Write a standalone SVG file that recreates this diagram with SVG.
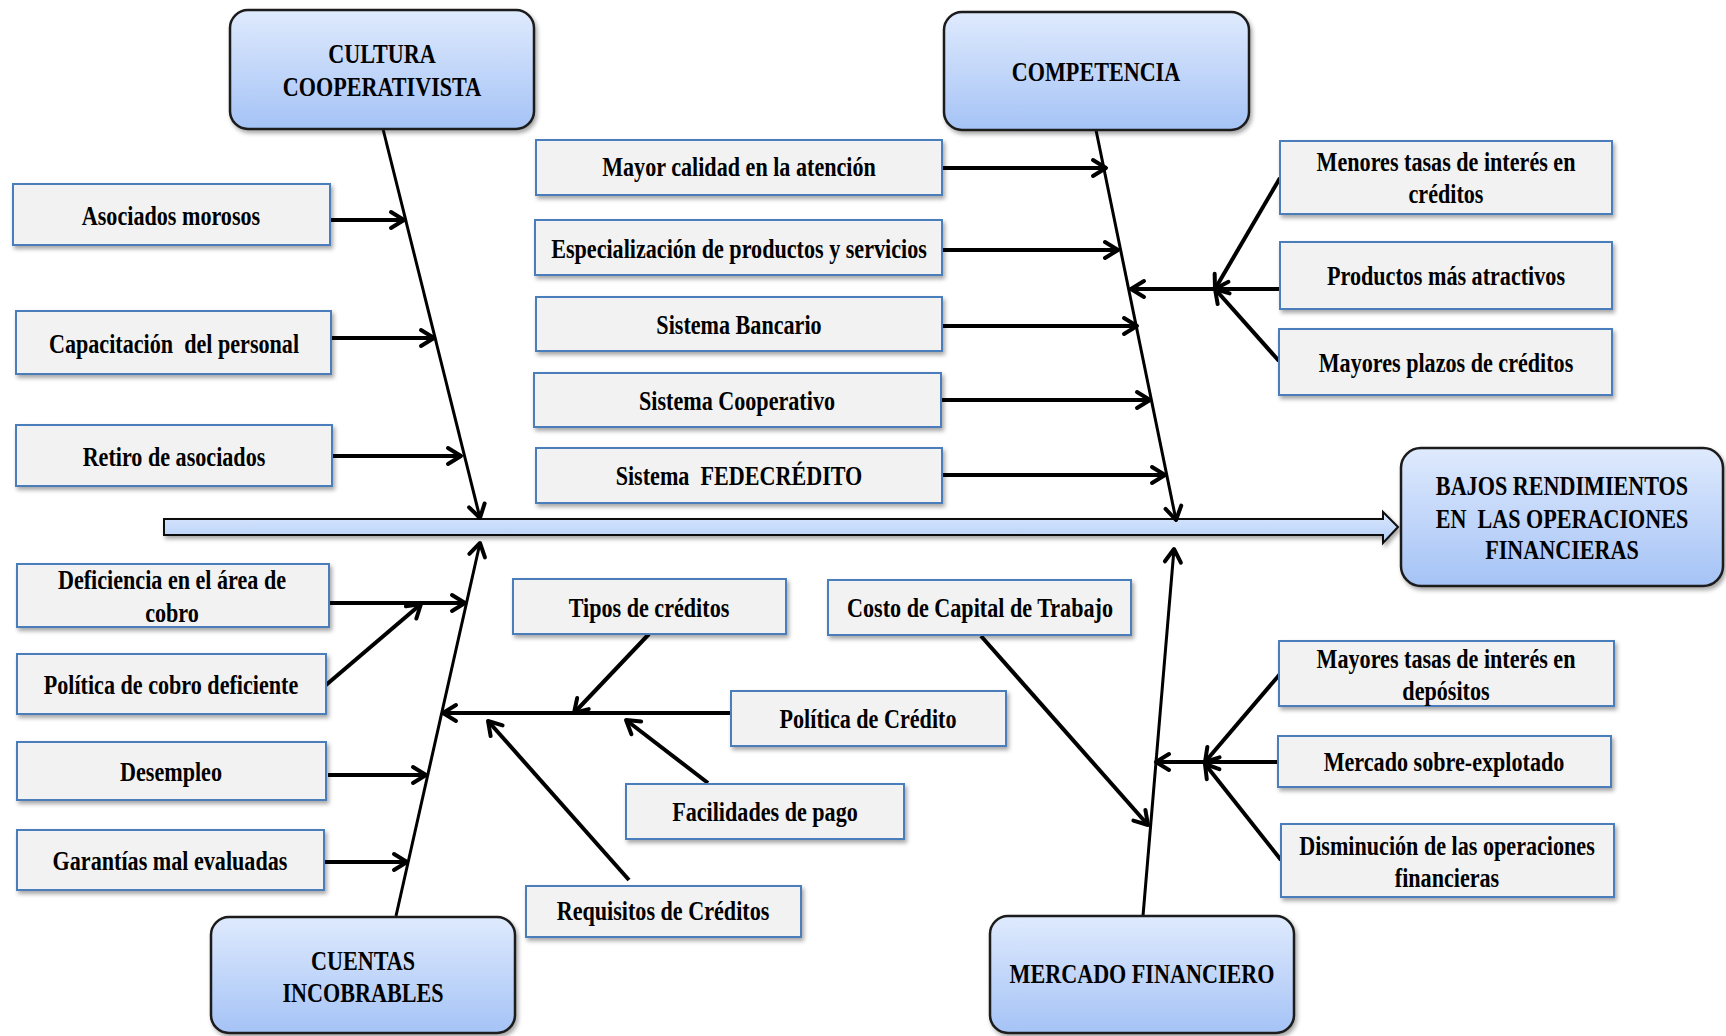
<svg xmlns="http://www.w3.org/2000/svg" width="1726" height="1036" viewBox="0 0 1726 1036">
<style>
.t { font-family: "Liberation Serif", "Times New Roman", serif; font-weight: bold; font-size: 27px; fill: #000; text-anchor: middle; transform-box: fill-box; transform-origin: center; transform: scaleX(0.82); }
.cause { fill: #f2f2f2; stroke: #4a7ebb; stroke-width: 2; filter: url(#sh); }
.cat { fill: url(#catg); stroke: #1b1b1b; stroke-width: 2.5; filter: url(#sh); }
.c { fill: none; stroke: #000; stroke-width: 4; marker-end: url(#ah); }
.sp { fill: none; stroke: #000; stroke-width: 3; marker-end: url(#ah); }
</style>
<defs>
<linearGradient id="catg" x1="0" y1="0" x2="0" y2="1">
<stop offset="0" stop-color="#dfeafd"/>
<stop offset="1" stop-color="#a5c3f6"/>
</linearGradient>
<linearGradient id="axg" x1="0" y1="0" x2="0" y2="1">
<stop offset="0" stop-color="#dbe7fd"/>
<stop offset="1" stop-color="#b3cff8"/>
</linearGradient>
<filter id="sh" x="-10%" y="-10%" width="125%" height="140%">
<feDropShadow dx="2" dy="3" stdDeviation="2" flood-color="#000" flood-opacity="0.35"/>
</filter>
<marker id="ah" markerUnits="userSpaceOnUse" markerWidth="22" markerHeight="22" viewBox="-2 -2 22 22" refX="14" refY="8.5" orient="auto" overflow="visible">
<path d="M1,0.5 L14,8.5 L1,16.5" fill="none" stroke="#000" stroke-width="4" stroke-linecap="round" stroke-linejoin="round"/>
</marker>
</defs>
<rect x="0" y="0" width="1726" height="1036" fill="#fff"/>

<g id="axis">
<path d="M164,519 L1383,519 L1383,512 L1398,527 L1383,543 L1383,535 L164,535 Z" fill="url(#axg)" stroke="#111" stroke-width="2" filter="url(#sh)"/>
</g>

<g id="connectors">
<line class="sp" x1="383" y1="129" x2="480" y2="518"/>
<line class="c" x1="330" y1="220" x2="404" y2="220"/>
<line class="c" x1="332" y1="338" x2="434" y2="338"/>
<line class="c" x1="333" y1="456" x2="461" y2="456"/>

<line class="sp" x1="1096" y1="130" x2="1176" y2="520"/>
<line class="c" x1="943" y1="168" x2="1106" y2="168"/>
<line class="c" x1="943" y1="250" x2="1118" y2="250"/>
<line class="c" x1="943" y1="326" x2="1137" y2="326"/>
<line class="c" x1="941" y1="400" x2="1150" y2="400"/>
<line class="c" x1="943" y1="475" x2="1165" y2="475"/>
<line class="c" x1="1280" y1="289" x2="1131" y2="289"/>
<line class="c" x1="1280" y1="178" x2="1215" y2="289"/>
<line class="c" x1="1279" y1="361" x2="1215" y2="289"/>

<line class="sp" x1="396" y1="916" x2="480" y2="543"/>
<line class="c" x1="330" y1="603" x2="465" y2="603"/>
<line class="c" x1="326" y1="685" x2="421" y2="604"/>
<line class="c" x1="328" y1="775" x2="426" y2="775"/>
<line class="c" x1="324" y1="862" x2="407" y2="862"/>
<line class="c" x1="731" y1="713" x2="443" y2="713"/>
<line class="c" x1="649" y1="634" x2="574" y2="713"/>
<line class="c" x1="708" y1="783" x2="626" y2="720"/>
<line class="c" x1="629" y1="880" x2="488" y2="721"/>

<line class="sp" x1="1143" y1="916" x2="1174" y2="549"/>
<line class="c" x1="981" y1="636" x2="1148" y2="825"/>
<line class="c" x1="1278" y1="762" x2="1156" y2="762"/>
<line class="c" x1="1280" y1="674" x2="1205" y2="762"/>
<line class="c" x1="1281" y1="860" x2="1205" y2="764"/>
</g>

<g id="cultura">
<rect class="cat" x="230" y="10" width="304" height="119" rx="18"/>
<text class="t" x="382" y="63">CULTURA</text>
<text class="t" x="382" y="96">COOPERATIVISTA</text>
</g>
<g id="competencia">
<rect class="cat" x="944" y="12" width="305" height="118" rx="18"/>
<text class="t" x="1096" y="81">COMPETENCIA</text>
</g>
<g id="cuentas">
<rect class="cat" x="211" y="917" width="304" height="116" rx="18"/>
<text class="t" x="363" y="970">CUENTAS</text>
<text class="t" x="363" y="1002">INCOBRABLES</text>
</g>
<g id="mercado">
<rect class="cat" x="990" y="916" width="304" height="117" rx="18"/>
<text class="t" x="1142" y="983">MERCADO FINANCIERO</text>
</g>
<g id="efecto">
<rect class="cat" x="1401" y="448" width="322" height="138" rx="20"/>
<text class="t" x="1562" y="495">BAJOS RENDIMIENTOS</text>
<text class="t" x="1562" y="528">EN&#160; LAS OPERACIONES</text>
<text class="t" x="1562" y="559">FINANCIERAS</text>
</g>

<g id="asociados-morosos">
<rect class="cause" x="13" y="184" width="317" height="61"/>
<text class="t" x="171" y="225">Asociados morosos</text>
</g>
<g id="capacitacion">
<rect class="cause" x="16" y="311" width="315" height="63"/>
<text class="t" x="174" y="353">Capacitación&#160; del personal</text>
</g>
<g id="retiro">
<rect class="cause" x="16" y="425" width="316" height="61"/>
<text class="t" x="174" y="466">Retiro de asociados</text>
</g>

<g id="mayor-calidad">
<rect class="cause" x="536" y="140" width="406" height="55"/>
<text class="t" x="739" y="176">Mayor calidad en la atención</text>
</g>
<g id="especializacion">
<rect class="cause" x="535" y="220" width="407" height="55"/>
<text class="t" x="739" y="258">Especialización de productos y servicios</text>
</g>
<g id="sistema-bancario">
<rect class="cause" x="536" y="297" width="406" height="54"/>
<text class="t" x="739" y="334">Sistema Bancario</text>
</g>
<g id="sistema-cooperativo">
<rect class="cause" x="534" y="373" width="407" height="54"/>
<text class="t" x="737" y="410">Sistema Cooperativo</text>
</g>
<g id="sistema-fedecredito">
<rect class="cause" x="536" y="448" width="406" height="55"/>
<text class="t" x="739" y="485">Sistema&#160; FEDECRÉDITO</text>
</g>

<g id="menores-tasas">
<rect class="cause" x="1280" y="141" width="332" height="73"/>
<text class="t" x="1446" y="171">Menores tasas de interés en</text>
<text class="t" x="1446" y="203">créditos</text>
</g>
<g id="productos-atractivos">
<rect class="cause" x="1280" y="242" width="332" height="67"/>
<text class="t" x="1446" y="285">Productos más atractivos</text>
</g>
<g id="mayores-plazos">
<rect class="cause" x="1279" y="329" width="333" height="66"/>
<text class="t" x="1446" y="372">Mayores plazos de créditos</text>
</g>

<g id="deficiencia-cobro">
<rect class="cause" x="17" y="564" width="312" height="63"/>
<text class="t" x="172" y="589">Deficiencia en el área de</text>
<text class="t" x="172" y="622">cobro</text>
</g>
<g id="politica-cobro">
<rect class="cause" x="17" y="654" width="309" height="60"/>
<text class="t" x="171" y="694">Política de cobro deficiente</text>
</g>
<g id="desempleo">
<rect class="cause" x="17" y="742" width="309" height="58"/>
<text class="t" x="171" y="781">Desempleo</text>
</g>
<g id="garantias">
<rect class="cause" x="17" y="830" width="307" height="60"/>
<text class="t" x="170" y="870">Garantías mal evaluadas</text>
</g>

<g id="tipos-creditos">
<rect class="cause" x="513" y="579" width="273" height="55"/>
<text class="t" x="649" y="617">Tipos de créditos</text>
</g>
<g id="politica-credito">
<rect class="cause" x="731" y="691" width="275" height="55"/>
<text class="t" x="868" y="728">Política de Crédito</text>
</g>
<g id="facilidades-pago">
<rect class="cause" x="626" y="784" width="278" height="55"/>
<text class="t" x="765" y="821">Facilidades de pago</text>
</g>
<g id="requisitos-creditos">
<rect class="cause" x="526" y="886" width="275" height="51"/>
<text class="t" x="663" y="920">Requisitos de Créditos</text>
</g>

<g id="costo-capital">
<rect class="cause" x="828" y="580" width="303" height="55"/>
<text class="t" x="980" y="617">Costo de Capital de Trabajo</text>
</g>
<g id="mayores-tasas-depositos">
<rect class="cause" x="1279" y="641" width="335" height="65"/>
<text class="t" x="1446" y="668">Mayores tasas de interés en</text>
<text class="t" x="1446" y="700">depósitos</text>
</g>
<g id="mercado-sobreexplotado">
<rect class="cause" x="1278" y="736" width="333" height="51"/>
<text class="t" x="1444" y="771">Mercado sobre-explotado</text>
</g>
<g id="disminucion-operaciones">
<rect class="cause" x="1281" y="824" width="333" height="73"/>
<text class="t" x="1447" y="855">Disminución de las operaciones</text>
<text class="t" x="1447" y="887">financieras</text>
</g>
</svg>
